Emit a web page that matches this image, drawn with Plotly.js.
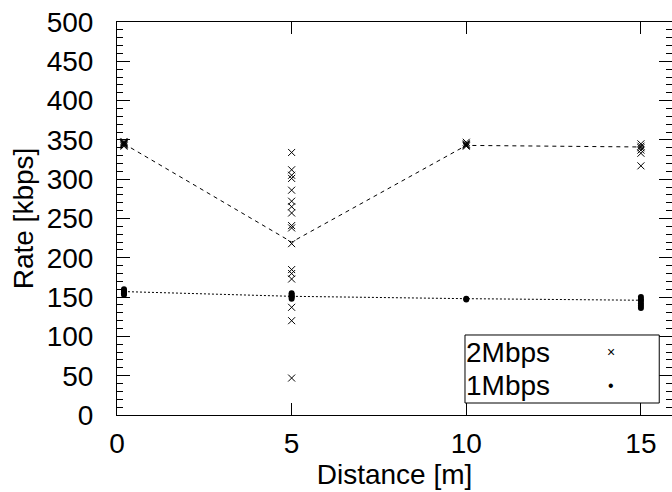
<!DOCTYPE html>
<html>
<head>
<meta charset="utf-8">
<script src="https://cdn.plot.ly/plotly-3.0.1.min.js"></script>
<style>html,body{margin:0;padding:0;background:#fff;}#chart{width:672px;height:492px;}</style>
</head>
<body>
<div id="chart"></div>
<script>
// Distances of the measurement points [m]
const distances = [0.2, 5, 10, 15];

// 2 Mbps individual measurements [kbps]
const rate2Mbps_d0 = [348, 347, 346, 345, 345, 344, 343, 342];
const rate2Mbps_d5 = [334, 312, 305, 301, 286, 272, 265, 257, 241, 238, 218, 185, 180, 173, 137, 120, 47];
const rate2Mbps_d10 = [347, 345, 344, 343, 342];
const rate2Mbps_d15 = [345, 342, 340, 337, 333, 317];

// 1 Mbps individual measurements [kbps]
const rate1Mbps_d0 = [160, 158, 157, 156, 155, 153];
const rate1Mbps_d5 = [155, 153, 151, 150, 148];
const rate1Mbps_d10 = [148, 147];
const rate1Mbps_d15 = [150, 147, 145, 142, 139, 136];

// Mean lines [kbps]
const mean2Mbps = [345, 220, 343, 341];
const mean1Mbps = [157, 151, 148, 146];

// Tick values / labels
const xTicks = [0, 5, 10, 15];
const yTicks = [0, 50, 100, 150, 200, 250, 300, 350, 400, 450, 500];
const seriesNames = ["2Mbps", "1Mbps"];

function expand(groups) {
  const xs = [], ys = [];
  groups.forEach((g, i) => g.forEach(v => { xs.push(distances[i]); ys.push(v); }));
  return {x: xs, y: ys};
}
const pts2 = expand([rate2Mbps_d0, rate2Mbps_d5, rate2Mbps_d10, rate2Mbps_d15]);
const pts1 = expand([rate1Mbps_d0, rate1Mbps_d5, rate1Mbps_d10, rate1Mbps_d15]);

const font = {family: "Liberation Sans, Arial, sans-serif", size: 28, color: "#000"};

const traces = [
  {x: distances, y: mean2Mbps, mode: "lines", line: {color: "#000", width: 1, dash: "4px,4px"}, showlegend: false, hoverinfo: "skip"},
  {x: distances, y: mean1Mbps, mode: "lines", line: {color: "#000", width: 1, dash: "2px,2px"}, showlegend: false, hoverinfo: "skip"},
  {x: pts2.x, y: pts2.y, mode: "markers", name: seriesNames[0], showlegend: false,
   marker: {symbol: "x-thin", size: 7, color: "#000", line: {color: "#000", width: 1}}},
  {x: pts1.x, y: pts1.y, mode: "markers", name: seriesNames[1], showlegend: false,
   marker: {symbol: "circle", size: 6, color: "#000", line: {width: 0}}}
];

const layout = {
  width: 672, height: 492,
  margin: {l: 117, r: 0, t: 22, b: 77},
  paper_bgcolor: "#fff", plot_bgcolor: "#fff",
  font: font,
  showlegend: false,
  xaxis: {
    range: [0, 15.89], tickvals: xTicks, ticktext: xTicks.map(String),
    ticks: "inside", ticklen: 12, tickwidth: 1, tickcolor: "#000",
    showline: true, linecolor: "#000", linewidth: 1, mirror: "ticks",
    showgrid: false, zeroline: false, ticklabelstandoff: 3,
    tickfont: font,
    title: {text: "Distance [m]", font: font, standoff: 4}
  },
  yaxis: {
    range: [0, 500], tickvals: yTicks, ticktext: yTicks.map(String),
    ticks: "inside", ticklen: 13, tickwidth: 1, tickcolor: "#000",
    minor: {dtick: 10, ticks: "inside", ticklen: 6, tickcolor: "#000", tickwidth: 1},
    showline: true, linecolor: "#000", linewidth: 1, mirror: "ticks",
    showgrid: false, zeroline: false, ticklabelstandoff: 17,
    tickfont: font,
    title: {text: "Rate [kbps]", font: font, standoff: 4}
  },
  shapes: [
    {type: "rect", xref: "paper", yref: "paper", x0: 0.627, x1: 0.977, y0: 0.0305, y1: 0.2036,
     line: {color: "#000", width: 1}, fillcolor: "#fff", layer: "above"}
  ],
  annotations: [
    {xref: "paper", yref: "paper", x: 0.625, y: 0.160, xanchor: "left", yanchor: "middle", text: seriesNames[0], showarrow: false, font: font},
    {xref: "paper", yref: "paper", x: 0.625, y: 0.0746, xanchor: "left", yanchor: "middle", text: seriesNames[1], showarrow: false, font: font},
    {xref: "paper", yref: "paper", x: 0.890, y: 0.160, xanchor: "center", yanchor: "middle", text: "×", showarrow: false, font: {family: font.family, size: 14, color: "#000"}},
    {xref: "paper", yref: "paper", x: 0.890, y: 0.0746, xanchor: "center", yanchor: "middle", text: "•", showarrow: false, font: {family: font.family, size: 16, color: "#000"}}
  ]
};

Plotly.newPlot("chart", traces, layout, {displayModeBar: false, staticPlot: true});
</script>
</body>
</html>
